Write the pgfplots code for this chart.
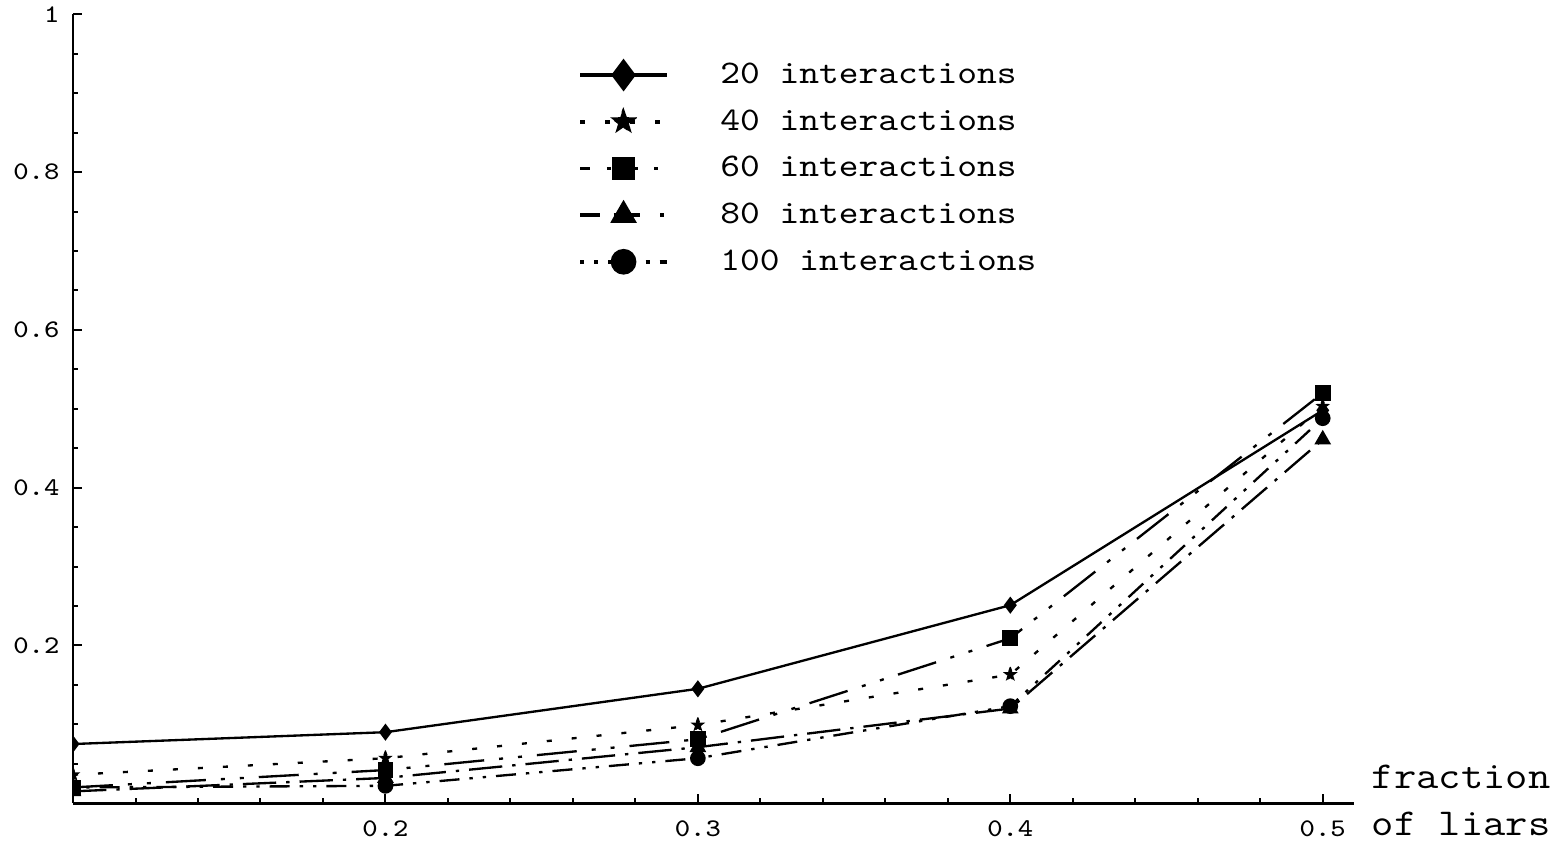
\documentclass[border=0pt]{standalone}
\usepackage{fontspec}
\setmonofont{Latin Modern Mono}[FakeStretch=1.14]
\usepackage{pgfplots}
\pgfplotsset{compat=1.18}
\pgfdeclareplotmark{fstar}{%
  \pgfpathmoveto{\pgfpointpolar{90}{\pgfplotmarksize}}%
  \pgfpathlineto{\pgfpointpolar{126}{0.4\pgfplotmarksize}}%
  \pgfpathlineto{\pgfpointpolar{162}{\pgfplotmarksize}}%
  \pgfpathlineto{\pgfpointpolar{198}{0.4\pgfplotmarksize}}%
  \pgfpathlineto{\pgfpointpolar{234}{\pgfplotmarksize}}%
  \pgfpathlineto{\pgfpointpolar{270}{0.4\pgfplotmarksize}}%
  \pgfpathlineto{\pgfpointpolar{306}{\pgfplotmarksize}}%
  \pgfpathlineto{\pgfpointpolar{342}{0.4\pgfplotmarksize}}%
  \pgfpathlineto{\pgfpointpolar{18}{\pgfplotmarksize}}%
  \pgfpathlineto{\pgfpointpolar{54}{0.4\pgfplotmarksize}}%
  \pgfpathclose
  \pgfusepathqfillstroke}
\pgfplotsset{
  legA/.style={legend image code/.code={\draw[##1, line width=1.1pt, mark size=4pt, mark repeat=2, mark phase=2] plot coordinates {(0pt,0pt) (13pt,0pt) (26pt,0pt)};}},
  legB/.style={legend image code/.code={\draw[##1, line width=1.1pt, mark size=4.2pt, mark repeat=2, mark phase=2] plot coordinates {(0pt,0pt) (13pt,0pt) (26pt,0pt)};}},
  legC/.style={legend image code/.code={\draw[##1, line width=1.1pt, dash pattern=on 3pt off 5pt on 1.2pt off 5pt, mark size=2.85pt, mark repeat=2, mark phase=2] plot coordinates {(0pt,0pt) (13pt,0pt) (26pt,0pt)};}},
  legD/.style={legend image code/.code={\draw[##1, line width=1.1pt, dash pattern=on 6pt off 4pt on 8pt off 6pt on 1.2pt off 6pt, mark size=3.5pt, mark repeat=2, mark phase=2] plot coordinates {(0pt,0pt) (13pt,0pt) (26pt,0pt)};}},
  legE/.style={legend image code/.code={\draw[##1, line width=1.1pt, dash pattern=on 1.2pt off 3pt on 1.2pt off 3pt on 4pt off 3pt, mark size=3.3pt, mark repeat=2, mark phase=2] plot coordinates {(0pt,0pt) (13pt,0pt) (26pt,0pt)};}},
}
\begin{document}
\begin{tikzpicture}
\path[use as bounding box] (-21.9pt,-11.7pt) rectangle (448.1pt,240.9pt);
\begin{axis}[
  scale only axis, width=384.2pt, height=236.6pt,
  xmin=0.1, xmax=0.51, ymin=0, ymax=1,
  axis x line=bottom, axis y line=left,
  axis line style={-, line width=0.8pt},
  xtick={0.2,0.3,0.4,0.5}, xticklabels={0.2,0.3,0.4,0.5},
  ytick={0.2,0.4,0.6,0.8,1}, yticklabels={0.2,0.4,0.6,0.8,1},
  minor xtick={0.12,0.14,0.16,0.18,0.22,0.24,0.26,0.28,0.32,0.34,0.36,0.38,0.42,0.44,0.46,0.48},
  minor ytick={0.05,0.1,0.15,0.25,0.3,0.35,0.45,0.5,0.55,0.65,0.7,0.75,0.85,0.9,0.95},
  tick align=inside, major tick length=2.7pt, minor tick length=1.6pt,
  every tick/.style={black, line width=0.6pt},
  ticklabel style={font=\fontsize{7.6}{9}\selectfont\ttfamily, inner sep=0pt},
  xticklabel shift=5pt, yticklabel shift=3.9pt,
  xlabel={fraction\\of liars},
  xlabel style={at={(axis description cs:1,0)}, anchor=west, align=left, inner sep=0pt, xshift=5.2pt, yshift=0.8pt, font=\fontsize{11.4}{14.2}\selectfont\ttfamily},
  clip mode=individual, clip marker paths=true,
  every axis plot/.append style={black, line width=0.7pt, mark options={solid}},
  legend style={draw=none, fill=none, at={(axis description cs:0.394,0.945)}, anchor=north west, inner sep=0pt, row sep=4pt, font=\fontsize{9.9}{12}\selectfont\ttfamily, nodes={inner sep=0pt, text height=7.5pt, text depth=2.5pt}, /tikz/every odd column/.append style={column sep=15.5pt}},
  legend cell align=left,
]
\addplot[solid, mark=diamond*, mark size=2pt, legA]
  coordinates {(0.1,0.075) (0.2,0.090) (0.3,0.145) (0.4,0.251) (0.5,0.498)};
\addlegendentry{20 interactions}
\addplot[dash pattern=on 1.5pt off 6pt, mark=fstar, mark size=2.3pt, mark options={fill=black, line width=0.3pt}, legB]
  coordinates {(0.1,0.036) (0.2,0.057) (0.3,0.099) (0.4,0.163) (0.5,0.503)};
\addlegendentry{40 interactions}
\addplot[dash pattern=on 12pt off 4.5pt on 1.2pt off 4.5pt on 1.2pt off 4.5pt, mark=square*, mark size=2pt, legC]
  coordinates {(0.1,0.020) (0.2,0.042) (0.3,0.081) (0.4,0.209) (0.5,0.520)};
\addlegendentry{60 interactions}
\addplot[dash pattern=on 10pt off 3pt on 1pt off 3pt, mark=triangle*, mark size=2.2pt, legD]
  coordinates {(0.1,0.015) (0.2,0.032) (0.3,0.071) (0.4,0.120) (0.5,0.461)};
\addlegendentry{80 interactions}
\addplot[dash pattern=on 1pt off 3pt on 1pt off 3pt on 6pt off 3pt, mark=*, mark size=2pt, legE]
  coordinates {(0.1,0.020) (0.2,0.022) (0.3,0.057) (0.4,0.123) (0.5,0.488)};
\addlegendentry{100 interactions}
\end{axis}
\end{tikzpicture}
\end{document}
